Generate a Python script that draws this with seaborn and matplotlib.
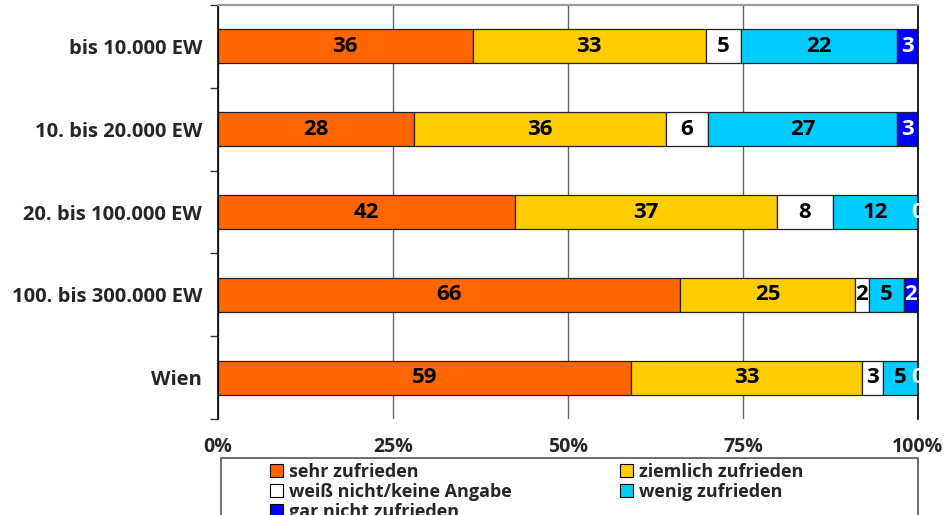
import numpy as np
import pandas as pd
import seaborn as sns
import matplotlib.pyplot as plt
import matplotlib.patches as mpatches
from matplotlib.ticker import FixedLocator

# Daten (Anteile in %, je Gemeindegröße)
gruppen = ["bis 10.000 EW", "10. bis 20.000 EW", "20. bis 100.000 EW",
           "100. bis 300.000 EW", "Wien"]
kategorien = ["sehr zufrieden", "ziemlich zufrieden", "weiß nicht/keine Angabe",
              "wenig zufrieden", "gar nicht zufrieden"]
sehr = [36, 28, 42, 66, 59]
ziemlich = [33, 36, 37, 25, 33]
weiss = [5, 6, 8, 2, 3]
wenig = [22, 27, 12, 5, 5]
gar_nicht = [3, 3, 0, 2, 0]
farben = ["#FF6600", "#FFCC00", "#FFFFFF", "#00CCFF", "#0000FF"]
textfarben = ["black", "black", "black", "black", "white"]
xticks = [0, 25, 50, 75, 100]
xlabels = ["0%", "25%", "50%", "75%", "100%"]

sns.set_style("white")
plt.rcParams['font.family'] = ['Open Sans', 'DejaVu Sans']

werte = np.array([sehr, ziemlich, weiss, wenig, gar_nicht], dtype=float)
summen = werte.sum(axis=0)
anteile = werte / summen * 100  # 100%-gestapelt

fig = plt.figure(figsize=(9.45, 5.15), dpi=100)
ax = fig.add_axes([218/945, 1 - 419/515, 700/945, 414/515])

links = np.zeros(len(gruppen))
for i, name in enumerate(kategorien):
    df = pd.DataFrame({"gruppe": gruppen, "anteil": anteile[i]})
    sns.barplot(data=df, x="anteil", y="gruppe", orient="h", left=links,
                color=farben[i], saturation=1, edgecolor="#222222", linewidth=0.9,
                width=0.41, errorbar=None, ax=ax)
    cont = ax.containers[-1]
    texte = ax.bar_label(cont, labels=[str(int(v)) for v in werte[i]],
                         label_type="center", fontsize=16, fontweight="bold",
                         color=textfarben[i])
    for t, v in zip(texte, werte[i]):
        t.set_clip_on(True)
        if v == 0:
            t.set_color("white")
    links = links + anteile[i]

ax.set_xlim(0, 100)
ax.set_ylim(4.5, -0.5)
ax.set_xlabel("")
ax.set_ylabel("")
ax.set_xticks(xticks)
ax.set_xticklabels(xlabels, fontsize=14, fontweight="bold")
ax.tick_params(axis="x", length=0, pad=13)
ax.set_yticks(range(len(gruppen)))
ax.set_yticklabels(gruppen, fontsize=14.5, fontweight="bold")
ax.yaxis.set_minor_locator(FixedLocator(np.arange(-0.5, 5, 1)))
ax.tick_params(axis="y", which="major", length=0, pad=11.5)
ax.tick_params(axis="y", which="minor", length=6, width=1, color="#333333", left=True)

ax.grid(axis="x", color="#666666", linewidth=1)
ax.grid(axis="y", visible=False)
ax.set_axisbelow(True)
ax.spines["left"].set_color("black")
ax.spines["left"].set_linewidth(1.2)
ax.spines["right"].set_color("black")
ax.spines["right"].set_linewidth(1.2)
ax.spines["top"].set_color("#999999")
ax.spines["top"].set_linewidth(1.5)
ax.spines["bottom"].set_visible(False)

# Legende (unten, teilweise abgeschnitten)
handles = [mpatches.Patch(facecolor=f, edgecolor="black", linewidth=0.8) for f in farben]
reihenfolge = [0, 2, 4, 1, 3]
fig.legend([handles[k] for k in reihenfolge], [kategorien[k] for k in reihenfolge],
           loc="upper left", bbox_to_anchor=(270/945, 1 - 463/515), ncol=2,
           frameon=False, prop={"size": 13, "weight": "bold"},
           handlelength=0.7, handleheight=0.7,
           handletextpad=0.35, columnspacing=6.0, labelspacing=0.1,
           borderpad=0, borderaxespad=0)
rahmen = mpatches.Rectangle((221/945, -0.05), (918 - 221)/945, 0.05 + 1 - 458/515,
                            transform=fig.transFigure, fill=False,
                            edgecolor="#555555", linewidth=1.2)
fig.patches.append(rahmen)

fig.savefig("out.png", dpi=100)
